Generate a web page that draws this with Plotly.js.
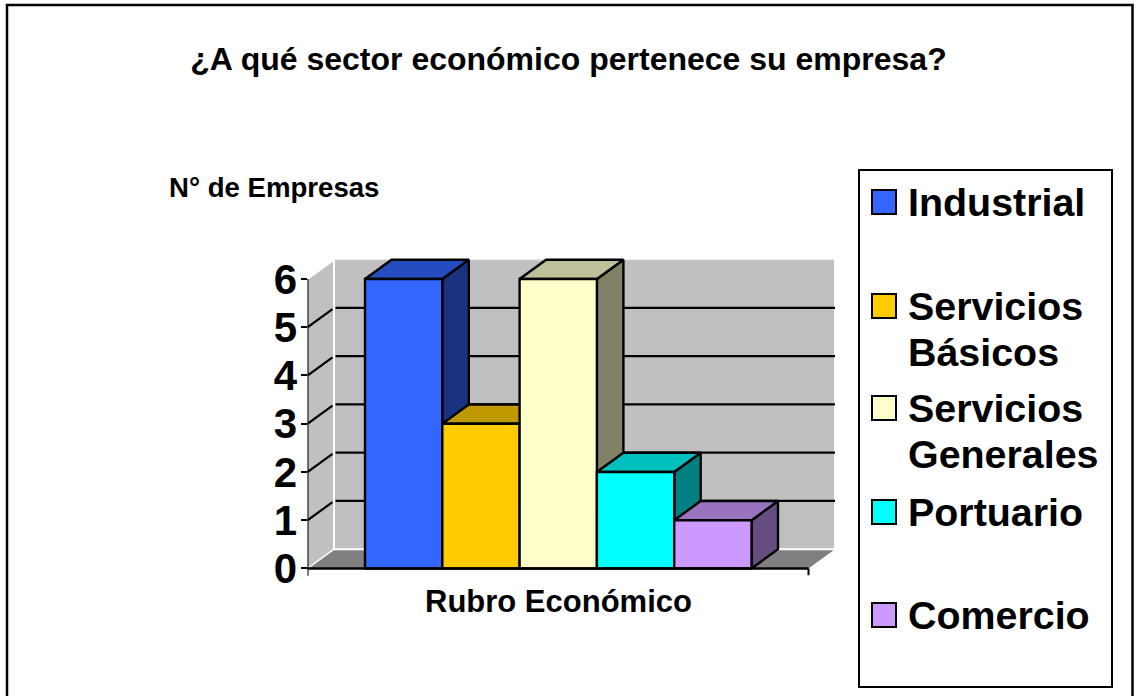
<!DOCTYPE html>
<html>
<head>
<meta charset="utf-8">
<script src="https://cdn.plot.ly/plotly-3.0.1.min.js"></script>
<style>html,body{margin:0;padding:0;background:#fff;overflow:hidden}#chart{width:1137px;height:696px}</style>
</head>
<body>
<div id="chart"></div>
<script>
const categories = ['Industrial', 'Servicios<br>Básicos', 'Servicios<br>Generales', 'Portuario', 'Comercio'];
const values = [6, 3, 6, 2, 1];
const colors = ['#3366FF', '#FFCC00', '#FFFFCC', '#00FFFF', '#CC99FF'];
const yTicks = [0, 1, 2, 3, 4, 5, 6];
const chartTitle = '¿A qué sector económico pertenece su empresa?';
const yTitle = 'N° de Empresas';
const xTitle = 'Rubro Económico';

// Pixel frame of the chart
const W = 1137, H = 696;
const pxPerX = 77.3, pxPerY = 48.25;
const bar0Left = 365, axisLeft = 307.5, axisRight = 808.5, plotRight = 838, baseY = 568.5;
const depthX = 26.5 / pxPerX, depthY = 19.3 / pxPerY;
const xOf = px => (px - bar0Left) / pxPerX - 0.5;
const xMin = xOf(axisLeft), xEnd = xOf(axisRight), xMax = xOf(plotRight);
const yMin = -0.22, yMax = 6.45, yTop = 6;
const backL = xMin + depthX, backR = xEnd + depthX, backB = depthY, backT = yTop + depthY;

function shade(hex, f) {
  const n = parseInt(hex.slice(1), 16);
  const c = [(n >> 16) & 255, (n >> 8) & 255, n & 255].map(v => Math.round(v * f));
  return 'rgb(' + c.join(',') + ')';
}
const traces = [];
function poly(xs, ys, fill, line, width) {
  traces.push({type: 'scatter', mode: 'lines', x: xs, y: ys, fill: fill ? 'toself' : 'none',
    fillcolor: fill || undefined, line: {color: line || fill, width: width === undefined ? 2.4 : width},
    hoverinfo: 'skip', showlegend: false, cliponaxis: false});
}
// Walls and floor
poly([xMin, backL, backL, xMin, xMin], [0, backB, backT, yTop, 0], '#C0C0C0', '#C0C0C0', 0);
poly([backL, backR, backR, backL, backL], [backB, backB, backT, backT, backB], '#C0C0C0', '#C0C0C0', 0);
poly([xMin, xEnd, backR, backL, xMin], [0, 0, backB, backB, 0], '#808080', '#808080', 0);
// Wall edge highlights
poly([xMin, backL, backL, backR, backR], [yTop, backT, backB, backB, backT], null, '#FFFFFF', 2);
poly([backL, backR], [backT, backT], null, '#E8E8E8', 1);
poly([xMin, backL], [0, backB], null, '#FFFFFF', 1.5);
poly([backR, backR + 4 / pxPerX], [backB, backB], null, '#FFFFFF', 1);
// Gridlines
yTicks.filter(v => v > 0 && v < yTop).forEach(v => {
  poly([xMin, backL - 1.5 / pxPerX], [v, v + depthY * 0.94], null, '#000000', 2.2);
  poly([backL + 1.5 / pxPerX, backR], [v + depthY, v + depthY], null, '#000000', 2.2);
});
// Bars, left to right so each covers the previous side face
values.forEach((v, i) => {
  const l = i - 0.5, r = i + 0.5, c = colors[i];
  poly([r, r + depthX, r + depthX, r, r], [0, depthY, v + depthY, v, 0], shade(c, 0.5), '#000000');
  poly([l, r, r + depthX, l + depthX, l], [v, v, v + depthY, v + depthY, v], shade(c, 0.75), '#000000');
  poly([l, r, r, l, l], [0, 0, v, v, 0], c, '#000000');
});
// Axis lines
poly([xMin, xMin], [yMin + 0.07, yTop], null, '#000000', 2);
poly([xMin - 6 / pxPerX, xEnd], [0, 0], null, '#000000', 2.4);
poly([xEnd, xEnd], [0, -0.14], null, '#000000', 2);

const px = v => v / W, py = v => 1 - v / H;
const shapes = [
  {type: 'rect', xref: 'paper', yref: 'paper', x0: px(7), x1: px(1132.5), y0: py(5), y1: py(720), line: {color: '#000', width: 2.5}},
  {type: 'rect', xref: 'paper', yref: 'paper', x0: px(859), x1: px(1112), y0: py(170), y1: py(687), line: {color: '#000', width: 2}, fillcolor: '#fff'}
];
const annotations = [];
function label(text, x, y, size, anchor) {
  annotations.push({text: text, xref: 'paper', yref: 'paper', x: px(x), y: py(y), xanchor: anchor || 'left', yanchor: 'middle',
    showarrow: false, borderpad: 0, font: {family: 'Liberation Sans, Arial, sans-serif', size: size, color: '#000', weight: 700}});
}
label(yTitle, 168, 187, 27.6);
label(xTitle, 558.5, 601, 31, 'center');
// Legend: swatch at the first line of each entry
const legendFirstLine = [202, 306, 408, 512, 615];
const legendLineStep = 46;
categories.forEach((name, i) => {
  const y = legendFirstLine[i];
  shapes.push({type: 'rect', xref: 'paper', yref: 'paper', x0: px(872), x1: px(896), y0: py(y - 12), y1: py(y + 12), fillcolor: colors[i], line: {color: '#000', width: 2}});
  name.split('<br>').forEach((line, k) => label(line, 906.5, y + k * legendLineStep, 39.4));
});

const layout = {
  width: W, height: H, margin: {l: 0, r: 0, t: 0, b: 0}, paper_bgcolor: '#fff', plot_bgcolor: 'rgba(0,0,0,0)',
  font: {family: 'Liberation Sans, Arial, sans-serif', color: '#000'},
  title: {text: chartTitle, x: 0.5, xanchor: 'center', xref: 'paper', y: py(59), yref: 'container', yanchor: 'middle',
    font: {family: 'Liberation Sans, Arial, sans-serif', size: 32, color: '#000', weight: 700}},
  xaxis: {domain: [px(axisLeft), px(plotRight)], range: [xMin, xMax], showticklabels: false, ticks: '', showgrid: false, zeroline: false, showline: false, fixedrange: true},
  yaxis: {domain: [py(baseY - yMin * pxPerY), py(baseY - yMax * pxPerY)], range: [yMin, yMax], tickmode: 'array', tickvals: yTicks, ticktext: yTicks.map(String),
    ticks: 'outside', ticklen: 6, tickwidth: 2, tickcolor: '#000', showgrid: false, zeroline: false, showline: false, fixedrange: true,
    ticklabelstandoff: -5, tickfont: {family: 'Liberation Sans, Arial, sans-serif', size: 42, color: '#000', weight: 700}},
  shapes: shapes, annotations: annotations, showlegend: false
};
Plotly.newPlot('chart', traces, layout, {displayModeBar: false, staticPlot: true});
</script>
</body>
</html>
